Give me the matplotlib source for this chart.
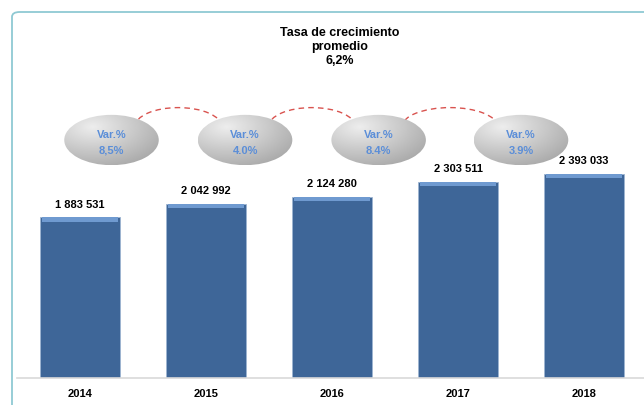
import matplotlib
matplotlib.use("Agg")
import matplotlib.pyplot as plt
import numpy as np
from matplotlib.patches import Ellipse, Arc, FancyBboxPatch
from matplotlib import font_manager

years = ["2014", "2015", "2016", "2017", "2018"]
values = [1883531, 2042992, 2124280, 2303511, 2393033]
var_labels = ["8,5%", "4.0%", "8.4%", "3.9%"]
var_xpos = [0.25, 1.31, 2.37, 3.5]
title_lines = ["Tasa de crecimiento", "promedio", "6,2%"]

BAR_COLOR = "#3E6698"
BAR_TOP = "#6F9AD0"
VAR_BLUE = "#5B8ED8"
ARC_RED = "#D9534F"
BORDER = "#8FC9D3"


def _pick_font():
    names = {f.name for f in font_manager.fontManager.ttflist}
    for name in ["Liberation Sans Narrow", "Liberation Sans", "DejaVu Sans"]:
        if name in names:
            return name
    return "DejaVu Sans"


def _fmt(v):
    return f"{v:,}".replace(",", " ")


def main():
    font = _pick_font()
    plt.rcParams["font.family"] = [font, "DejaVu Sans"]

    fig = plt.figure(figsize=(6.44, 4.05), dpi=100)

    # rounded frame of the chart area (runs off the right and bottom edges)
    frame = FancyBboxPatch((12 / 644, -40 / 405), 700 / 644, 433 / 405,
                           boxstyle="round,pad=0,rounding_size=0.012",
                           transform=fig.transFigure, fill=False,
                           edgecolor=BORDER, linewidth=1.3)
    fig.patches.append(frame)

    ax = fig.add_axes([17 / 644, 27 / 405, 627 / 644, 358 / 405])
    x = np.arange(len(years))

    ax.bar(x, values, width=0.63, color=BAR_COLOR, edgecolor="#9DB5D2",
           linewidth=0.6, zorder=2)
    # lighter bevel on top of each bar
    bevel = 50000
    ax.bar(x, [bevel] * len(values), bottom=[v - bevel for v in values],
           width=0.6, color=BAR_TOP, linewidth=0, zorder=3)

    for xi, v in zip(x, values):
        ax.text(xi, v + 90000, _fmt(v), ha="center", va="bottom",
                fontsize=8, fontweight="bold", color="black")

    ax.set_xticks(x)
    ax.set_xticklabels(years, fontsize=8, fontweight="bold")
    ax.tick_params(axis="x", length=0, pad=8)
    ax.set_yticks([])
    for side in ["top", "right", "left"]:
        ax.spines[side].set_visible(False)
    ax.spines["bottom"].set_color("#D9D9D9")
    ax.spines["bottom"].set_linewidth(1.2)

    # grey shaded ellipses with the yearly change
    ell_y = 2.79e6
    ell_w = 0.75
    ell_h = 5.9e5
    gx, gy = np.meshgrid(np.linspace(0, 1, 100), np.linspace(0, 1, 100))
    shade = 0.93 - 0.30 * np.clip(np.hypot(gx - 0.3, gy - 0.25) / 0.95, 0, 1)
    for xc, lab in zip(var_xpos, var_labels):
        ell = Ellipse((xc, ell_y), ell_w, ell_h, facecolor="none",
                      edgecolor="none", zorder=4)
        ax.add_patch(ell)
        im = ax.imshow(shade, cmap="gray", vmin=0, vmax=1, aspect="auto",
                       extent=[xc - ell_w / 2, xc + ell_w / 2,
                               ell_y - ell_h / 2, ell_y + ell_h / 2],
                       origin="upper", zorder=4, interpolation="bilinear")
        im.set_clip_path(ell)
        ax.text(xc, ell_y + 0.6e5, "Var.%", ha="center", va="center",
                fontsize=8, fontweight="bold", color=VAR_BLUE, zorder=5)
        ax.text(xc, ell_y - 1.25e5, lab, ha="center", va="center",
                fontsize=8, fontweight="bold", color=VAR_BLUE, zorder=5)

    # dashed red arcs linking neighbouring ellipses
    for a, b in zip(var_xpos[:-1], var_xpos[1:]):
        mid = (a + b) / 2
        span = (b - a) - ell_w * 0.5
        ax.add_patch(Arc((mid, ell_y + 1.6e5), span, 4.4e5, theta1=22,
                         theta2=158, color=ARC_RED, linewidth=1.0,
                         linestyle=(0, (4, 3)), zorder=3))

    ax.set_xlim(-0.5, 4.476)
    ax.set_ylim(0, 4.197e6)

    fig.text(340 / 644, 1 - 27 / 405, "\n".join(title_lines), ha="center",
             va="top", fontsize=9, fontweight="bold", linespacing=1.25)

    fig.savefig("out.png", dpi=100)


if __name__ == "__main__":
    main()
